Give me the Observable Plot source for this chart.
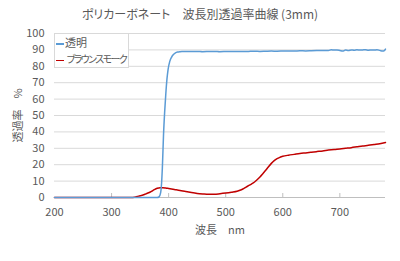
<!DOCTYPE html>
<html><head><meta charset="utf-8">
<script src="https://cdn.jsdelivr.net/npm/d3@7"></script>
<script src="https://cdn.jsdelivr.net/npm/@observablehq/plot@0.6"></script>
<style>
body{margin:0;background:#fff;}
#wrap{position:relative;width:400px;height:261px;font-family:"Noto Sans CJK JP",sans-serif;color:#595959;font-feature-settings:"palt";}
#title{position:absolute;left:0;top:5px;width:400px;text-align:center;font-size:12px;line-height:18px;white-space:pre;}
#legend{position:absolute;left:54px;top:33px;width:73px;height:33px;background:#fff;border:1px solid #d9d9d9;overflow:hidden;font-size:11px;white-space:nowrap;}
.row{position:absolute;left:1px;height:16px;line-height:16px;}
.sw{display:inline-block;width:8px;height:1.5px;vertical-align:middle;margin-right:1px;}
#chart svg{display:block;}
</style></head>
<body>
<div id="wrap">
  <div id="chart"></div>
  <div id="title"></div>
  <div id="legend"></div>
</div>
<script>
const titleText = "ポリカーボネート　波長別透過率曲線 (3mm)";
const xLabel = "波長　nm";
const yLabel = "透過率　%";
const seriesNames = ["透明", "ブラウンスモーク"];
const seriesColors = ["#5b9bd5", "#c00000"];
const xTicks = [200, 300, 400, 500, 600, 700];
const yTicks = [0, 10, 20, 30, 40, 50, 60, 70, 80, 90, 100];

const clearWl = [200, 300, 380, 383, 386, 389, 391, 393, 395, 397, 399, 402, 405, 408, 412, 416, 420, 425, 430, 440, 450, 460, 470, 480, 490, 500, 510, 520, 530, 540, 550, 560, 570, 580, 590, 600, 610, 620, 630, 640, 650, 660, 670, 680, 685, 690, 695, 700, 705, 710, 715, 720, 725, 730, 735, 740, 745, 750, 755, 760, 765, 770, 775, 778, 780];
const clearT  = [0, 0, 0, 0.3, 3, 18, 38, 52, 63, 72, 78, 83, 85.5, 87, 88.2, 88.7, 88.9, 89, 89.1, 89.0, 89.1, 88.9, 89.0, 89.1, 88.9, 89.0, 89.1, 89.0, 89.0, 89.1, 89.2, 89.1, 89.2, 89.3, 89.2, 89.3, 89.4, 89.3, 89.5, 89.4, 89.5, 89.6, 89.7, 89.6, 90.1, 89.9, 90.0, 89.7, 89.3, 89.9, 89.6, 90.0, 89.8, 90.1, 89.9, 90.0, 90.1, 89.8, 90.0, 89.9, 90.1, 89.7, 89.3, 89.6, 90.5];

const smokeWl = [200, 300, 335, 340, 345, 350, 355, 360, 365, 370, 375, 380, 385, 390, 395, 400, 410, 420, 430, 440, 450, 460, 470, 480, 490, 500, 510, 520, 525, 530, 535, 540, 545, 550, 555, 560, 565, 570, 575, 580, 585, 590, 595, 600, 610, 620, 630, 640, 650, 660, 670, 680, 690, 700, 710, 720, 730, 740, 750, 760, 770, 780];
const smokeT  = [0, 0, 0, 0.2, 0.6, 1.1, 1.5, 2.2, 2.9, 3.8, 4.8, 5.6, 6.0, 6.0, 5.8, 5.5, 4.9, 4.3, 3.6, 3.0, 2.5, 2.2, 2.0, 2.0, 2.3, 2.7, 3.2, 3.8, 4.4, 5.2, 6.2, 7.2, 8.2, 9.3, 10.8, 12.5, 14.5, 16.6, 18.8, 20.8, 22.5, 23.7, 24.5, 25.1, 25.8, 26.3, 26.8, 27.2, 27.6, 28.0, 28.4, 28.9, 29.3, 29.6, 30.0, 30.4, 30.9, 31.4, 31.8, 32.3, 32.8, 33.5];

const clear = clearWl.map((w, i) => ({w, t: clearT[i]}));
const smoke = smokeWl.map((w, i) => ({w, t: smokeT[i]}));

const chart = Plot.plot({
  width: 400, height: 261,
  marginLeft: 54, marginRight: 15, marginTop: 33, marginBottom: 64,
  style: {fontFamily: '"Noto Sans CJK JP", sans-serif', fontSize: "11px", color: "#595959", background: "#fff"},
  x: {domain: [200, 780]},
  y: {domain: [0, 100]},
  marks: [
    Plot.gridY(yTicks, {stroke: "#d9d9d9", strokeOpacity: 1}),
    Plot.ruleY([0], {stroke: "#bfbfbf"}),
    Plot.axisX(xTicks.slice(1), {tickSize: -4, text: null, stroke: "#bfbfbf", label: null}),
    Plot.axisX(xTicks, {tickSize: 0, tickPadding: 11, fontSize: 11, label: xLabel, labelAnchor: "center", labelOffset: 36, labelArrow: "none"}),
    Plot.axisY(yTicks, {tickSize: 0, tickPadding: 10, fontSize: 11, label: yLabel, labelAnchor: "center", labelOffset: 40, labelArrow: "none"}),
    Plot.line(smoke, {x: "w", y: "t", stroke: seriesColors[1], strokeWidth: 1.5, curve: "monotone-x"}),
    Plot.line(clear, {x: "w", y: "t", stroke: seriesColors[0], strokeWidth: 1.5, curve: "monotone-x"})
  ]
});
document.getElementById("chart").appendChild(chart);
document.getElementById("title").textContent = titleText;
const leg = document.getElementById("legend");
seriesNames.forEach((n, i) => {
  const r = document.createElement("div");
  r.className = "row";
  r.style.top = (i === 0 ? 0 : 17) + "px";
  if (i === 1) { r.style.letterSpacing = "-1.6px"; r.style.fontSize = "10px"; }
  const s = document.createElement("span");
  s.className = "sw"; s.style.background = seriesColors[i];
  s.style.marginRight = i === 1 ? "2.5px" : "1px";
  r.appendChild(s);
  r.appendChild(document.createTextNode(n));
  leg.appendChild(r);
});
</script>
</body></html>
